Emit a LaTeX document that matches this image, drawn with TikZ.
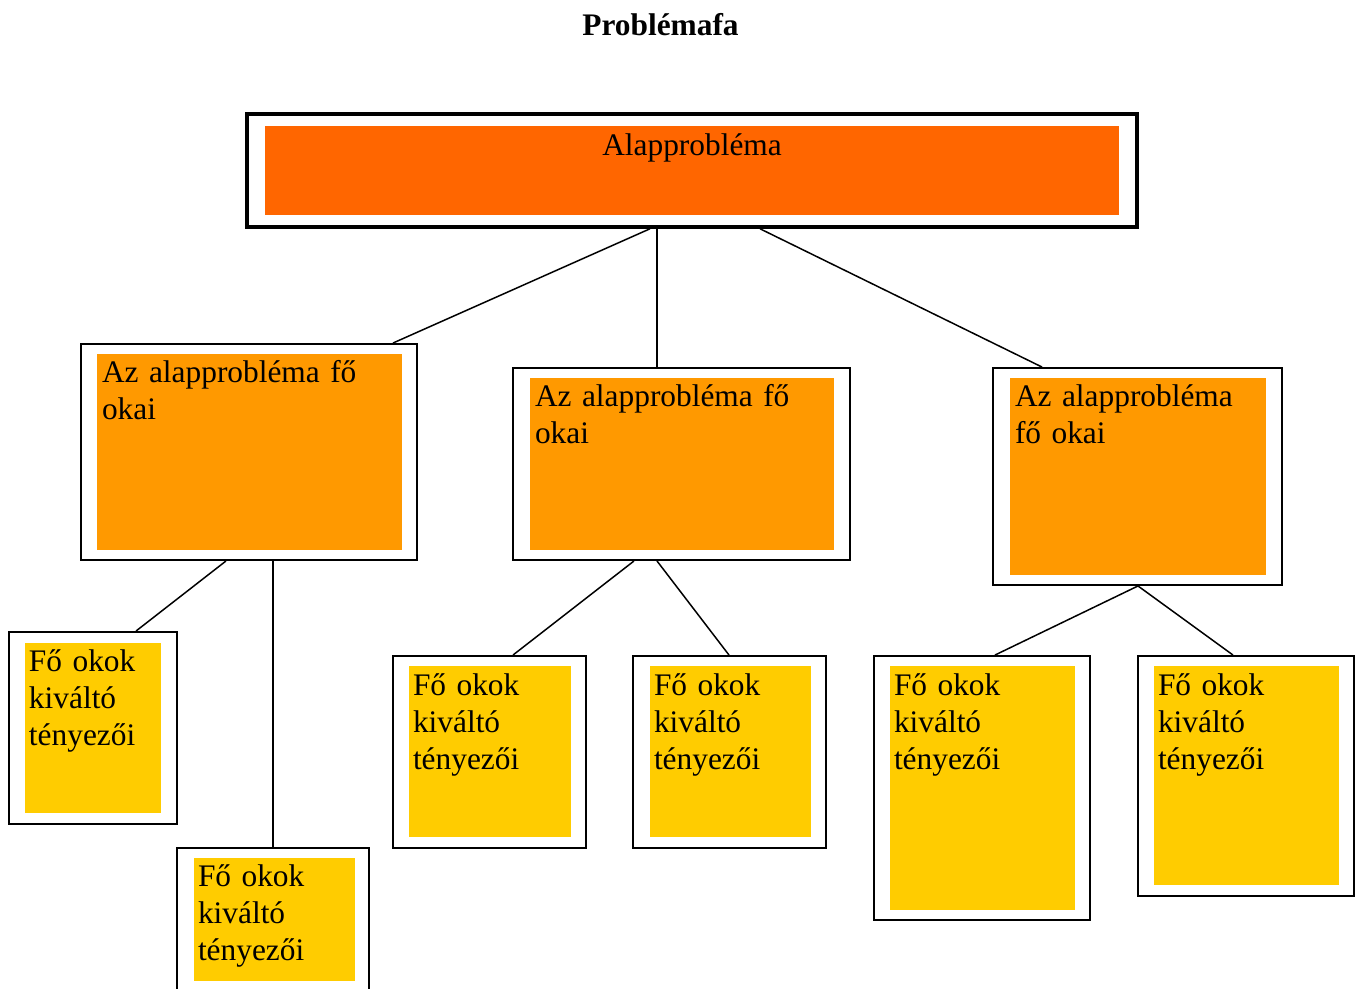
\documentclass[tikz,border=0pt]{standalone}
\usepackage{fontspec}
\setmainfont{Liberation Serif}
\usetikzlibrary{fit}
\definecolor{alapszin}{HTML}{FF6600}
\definecolor{okszin}{HTML}{FF9900}
\definecolor{tenyezoszin}{HTML}{FFCC00}
\newcommand\betu{\fontsize{17.86}{20.9}\selectfont}

\begin{document}
\begin{tikzpicture}[x=0.02cm,y=-0.02cm,
    keret/.style={draw,line width=1.1pt,inner sep=0pt},
    fokeret/.style={keret,line width=2pt},
    kitoltes/.style={inner sep=0pt},
    szoveg/.style={font=\betu,anchor=base west,align=left,inner sep=0pt,text width=5.2cm},
    kisszoveg/.style={szoveg,text width=3.6cm},
    vonal/.style={line width=0.85pt}]
\useasboundingbox (0,0) rectangle (1360,988);

\node[font=\betu\bfseries,anchor=base] (cim) at (660.5,35) {Problémafa};

\node[kitoltes,fill=alapszin,fit={(265,126) (1119,215)}] (alapk) {};
\node[fokeret,fit={(247,114) (1137,227)}] (alap) {};
\node[font=\betu,anchor=base,inner sep=0pt] (alapt) at ([shift={(0,30)}]alapk.north) {Alapprobléma};

\node[kitoltes,fill=okszin,fit={(97,354) (402,550)}] (ok1k) {};
\node[keret,fit={(81,344) (417,560)}] (ok1) {};
\node[szoveg] (ok1t) at ([shift={(5,29)}]ok1k.north west) {Az alapprobléma fő\\okai};

\node[kitoltes,fill=okszin,fit={(530,378) (834,550)}] (ok2k) {};
\node[keret,fit={(513,368) (850,560)}] (ok2) {};
\node[szoveg] (ok2t) at ([shift={(5,29)}]ok2k.north west) {Az alapprobléma fő\\okai};

\node[kitoltes,fill=okszin,fit={(1010,378) (1266,575)}] (ok3k) {};
\node[keret,fit={(993,368) (1282,585)}] (ok3) {};
\node[szoveg] (ok3t) at ([shift={(5,29)}]ok3k.north west) {Az alapprobléma\\fő okai};

\node[kitoltes,fill=tenyezoszin,fit={(25,643) (161,813)}] (t1k) {};
\node[keret,fit={(9,632) (177,824)}] (t1) {};
\node[kisszoveg] (t1t) at ([shift={(4,29)}]t1k.north west) {Fő okok\\kiváltó\\tényezői};

\node[kitoltes,fill=tenyezoszin,fit={(194,858) (355,981)}] (t2k) {};
\node[keret,fit={(177,848) (369,998)}] (t2) {};
\node[kisszoveg] (t2t) at ([shift={(4,29)}]t2k.north west) {Fő okok\\kiváltó\\tényezői};

\node[kitoltes,fill=tenyezoszin,fit={(409,666) (571,837)}] (t3k) {};
\node[keret,fit={(393,656) (586,848)}] (t3) {};
\node[kisszoveg] (t3t) at ([shift={(4,30)}]t3k.north west) {Fő okok\\kiváltó\\tényezői};

\node[kitoltes,fill=tenyezoszin,fit={(650,666) (811,837)}] (t4k) {};
\node[keret,fit={(633,656) (826,848)}] (t4) {};
\node[kisszoveg] (t4t) at ([shift={(4,30)}]t4k.north west) {Fő okok\\kiváltó\\tényezői};

\node[kitoltes,fill=tenyezoszin,fit={(890,666) (1075,910)}] (t5k) {};
\node[keret,fit={(874,656) (1090,920)}] (t5) {};
\node[kisszoveg] (t5t) at ([shift={(4,30)}]t5k.north west) {Fő okok\\kiváltó\\tényezői};

\node[kitoltes,fill=tenyezoszin,fit={(1154,666) (1339,885)}] (t6k) {};
\node[keret,fit={(1138,656) (1354,896)}] (t6) {};
\node[kisszoveg] (t6t) at ([shift={(4,30)}]t6k.north west) {Fő okok\\kiváltó\\tényezői};

\draw[vonal] (alap.south -| 650,0) -- (ok1.north -| 393,0);
\draw[vonal] (alap.south -| 657,0) -- (ok2.north -| 657,0);
\draw[vonal] (alap.south -| 760,0) -- (ok3.north -| 1042,0);
\draw[vonal] (ok1.south -| 226,0) -- (t1.north -| 136,0);
\draw[vonal] (ok1.south -| 273,0) -- (t2.north -| 273,0);
\draw[vonal] (ok2.south -| 634,0) -- (t3.north -| 513,0);
\draw[vonal] (ok2.south -| 657,0) -- (t4.north -| 729,0);
\draw[vonal] (ok3.south -| 1138,0) -- (t5.north -| 995,0);
\draw[vonal] (ok3.south -| 1138,0) -- (t6.north -| 1233,0);
\end{tikzpicture}
\end{document}
